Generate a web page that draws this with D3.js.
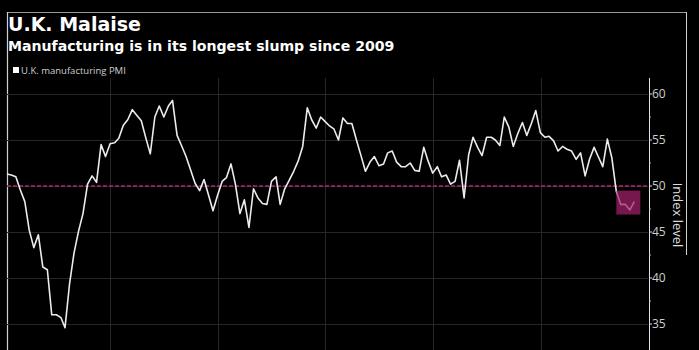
<!DOCTYPE html>
<html>
<head>
<meta charset="utf-8">
<script src="https://cdn.jsdelivr.net/npm/d3@7"></script>
<style>
  body { margin: 0; background: #000; }
  svg { display: block; }
</style>
</head>
<body>
<div id="chart"></div>
<script>
// U.K. manufacturing PMI, monthly, Jan 2008 .. Sep 2019
const startMonth = "2008-01";
const pmiValues = [
  51.3, 51.2, 51.0, 49.6, 48.3, 45.2, 43.3, 44.7, 41.2, 40.9, 36.0, 36.0,
  35.7, 34.6, 39.4, 42.7, 45.1, 47.0, 50.2, 51.1, 50.4, 54.5, 53.2, 54.6,
  54.7, 55.2, 56.6, 57.2, 58.3, 57.7, 57.1, 55.2, 53.5, 57.5, 58.7, 57.5,
  58.7, 59.3, 55.5, 54.4, 53.2, 51.8, 50.3, 49.5, 50.7, 49.0, 47.3, 49.0,
  50.5, 50.9, 52.4, 50.2, 47.0, 48.5, 45.5, 49.7, 48.7, 48.1, 48.0, 50.5,
  51.0, 48.0, 49.7, 50.6, 51.6, 52.7, 54.3, 58.5, 57.2, 56.3, 57.5, 57.0,
  56.5, 56.2, 55.0, 57.4, 56.8, 56.8, 55.0, 53.3, 51.6, 52.6, 53.2, 52.2,
  52.4, 53.6, 53.8, 52.6, 52.1, 52.1, 52.5, 51.7, 51.6, 54.2, 52.7, 51.4,
  52.1, 51.0, 51.2, 50.2, 50.5, 52.8, 48.7, 53.4, 55.3, 54.2, 53.3, 55.3,
  55.3, 55.0, 54.4, 57.5, 56.4, 54.3, 55.7, 56.9, 55.5, 56.8, 58.2, 55.8,
  55.3, 55.4, 54.9, 53.8, 54.3, 54.0, 53.8, 52.9, 53.6, 51.1, 52.9, 54.2,
  53.1, 52.1, 55.1, 53.1, 49.4, 48.0, 48.0, 47.4, 48.3
];
const yTicks = [35, 40, 45, 50, 55, 60];
const yMinorTicks = [37.5, 42.5, 47.5, 52.5, 57.5];
const gridYears = [2010, 2012, 2014, 2016, 2018];
const threshold = 50;
// highlighted contraction months (May - Sep 2019)
const boxDates = ["2019-05-31", "2019-11-10"];
const boxValues = [49.5, 46.9];

const width = 699, height = 350;
const plotLeft = 7, plotRight = 648, plotTop = 78;

const parseMonth = d3.timeParse("%Y-%m");
const first = parseMonth(startMonth);
// Bloomberg puts monthly points at month end
const data = pmiValues.map(function(v, i) {
  const d = d3.timeMonth.offset(first, i + 1);
  return { date: d3.timeDay.offset(d, -1), value: v };
});

const svg = d3.select("#chart")
  .append("svg")
  .attr("width", width)
  .attr("height", height);

svg.append("rect").attr("width", width).attr("height", height).attr("fill", "#000");

const x = d3.scaleTime()
  .domain([new Date(2008, 0, 31), new Date(2020, 0, 1)])
  .range([plotLeft, plotRight]);

const y = d3.scaleLinear()
  .domain([35, 60])
  .range([324, 94]);

// frame
svg.append("line").attr("x1", plotLeft).attr("x2", 686).attr("y1", 12.5).attr("y2", 12.5)
   .attr("stroke", "#9a9a9a").attr("stroke-width", 1);
svg.append("line").attr("x1", plotLeft + 0.5).attr("x2", plotLeft + 0.5).attr("y1", 12).attr("y2", height)
   .attr("stroke", "#d0d0d0").attr("stroke-width", 1.2);
svg.append("line").attr("x1", 686.5).attr("x2", 686.5).attr("y1", 12).attr("y2", 255)
   .attr("stroke", "#d0d0d0").attr("stroke-width", 1);

// titles
svg.append("text")
   .attr("x", 8).attr("y", 31)
   .attr("fill", "#fff")
   .style("font-family", "'DejaVu Sans', sans-serif")
   .style("font-weight", "bold")
   .style("font-size", "19px")
   .text("U.K. Malaise");

svg.append("text")
   .attr("x", 8).attr("y", 50.5)
   .attr("fill", "#fff")
   .style("font-family", "'DejaVu Sans', sans-serif")
   .style("font-weight", "bold")
   .style("font-size", "14.1px")
   .text("Manufacturing is in its longest slump since 2009");

// legend
svg.append("rect").attr("x", 13).attr("y", 67).attr("width", 6).attr("height", 6).attr("fill", "#fff");
svg.append("text")
   .attr("x", 21).attr("y", 74)
   .attr("fill", "#cfcfcf")
   .style("font-family", "'Open Sans', sans-serif")
   .style("font-size", "9.5px")
   .text("U.K. manufacturing PMI");

// grid
svg.append("g")
   .selectAll("line")
   .data(yTicks)
   .enter()
   .append("line")
   .attr("x1", plotLeft).attr("x2", plotRight)
   .attr("y1", function(d) { return Math.round(y(d)) + 0.5; })
   .attr("y2", function(d) { return Math.round(y(d)) + 0.5; })
   .attr("stroke", "#262626");

svg.append("g")
   .selectAll("line")
   .data(gridYears)
   .enter()
   .append("line")
   .attr("x1", function(d) { return Math.round(x(new Date(d, 0, 1))) + 0.5; })
   .attr("x2", function(d) { return Math.round(x(new Date(d, 0, 1))) + 0.5; })
   .attr("y1", plotTop).attr("y2", height)
   .attr("stroke", "#262626");

// 50 line
svg.append("line")
   .attr("x1", plotLeft).attr("x2", plotRight)
   .attr("y1", y(threshold)).attr("y2", y(threshold))
   .attr("stroke", "#b0267a")
   .attr("stroke-width", 1.5)
   .attr("stroke-dasharray", "4,2");

// pmi line
const line = d3.line()
  .x(function(d) { return x(d.date); })
  .y(function(d) { return y(d.value); });

svg.append("path")
   .datum(data)
   .attr("d", line)
   .attr("fill", "none")
   .attr("stroke", "#ececec")
   .attr("stroke-width", 1.6)
   .attr("stroke-linejoin", "round");

// highlight box
const bx0 = x(new Date(boxDates[0])), bx1 = x(new Date(boxDates[1]));
svg.append("rect")
   .attr("x", bx0).attr("y", y(boxValues[0]))
   .attr("width", bx1 - bx0)
   .attr("height", y(boxValues[1]) - y(boxValues[0]))
   .attr("fill", "#a3206c")
   .attr("opacity", 0.72);

// right axis
const axis = svg.append("g")
   .attr("transform", `translate(${plotRight + 1},0)`);

axis.append("line")
   .attr("x1", 0.5).attr("x2", 0.5).attr("y1", plotTop).attr("y2", height)
   .attr("stroke", "#e0e0e0").attr("stroke-width", 1);

axis.selectAll(".major")
   .data(yTicks)
   .enter()
   .append("line")
   .attr("class", "major")
   .attr("x1", 0).attr("x2", 3)
   .attr("y1", function(d) { return y(d); })
   .attr("y2", function(d) { return y(d); })
   .attr("stroke", "#e0e0e0");

axis.selectAll(".minor")
   .data(yMinorTicks)
   .enter()
   .append("line")
   .attr("class", "minor")
   .attr("x1", 0).attr("x2", 2)
   .attr("y1", function(d) { return y(d); })
   .attr("y2", function(d) { return y(d); })
   .attr("stroke", "#bbbbbb");

axis.selectAll("text")
   .data(yTicks)
   .enter()
   .append("text")
   .attr("x", 3)
   .attr("y", function(d) { return y(d); })
   .attr("dy", "0.35em")
   .attr("fill", "#cfcfcf")
   .style("font-family", "'Open Sans', sans-serif")
   .style("font-size", "12px")
   .text(function(d) { return d; });

svg.append("text")
   .attr("transform", "translate(673,215) rotate(90)")
   .attr("text-anchor", "middle")
   .attr("fill", "#dcdcdc")
   .style("font-family", "'Open Sans', sans-serif")
   .style("font-size", "13px")
   .text("Index level");
</script>
</body>
</html>
